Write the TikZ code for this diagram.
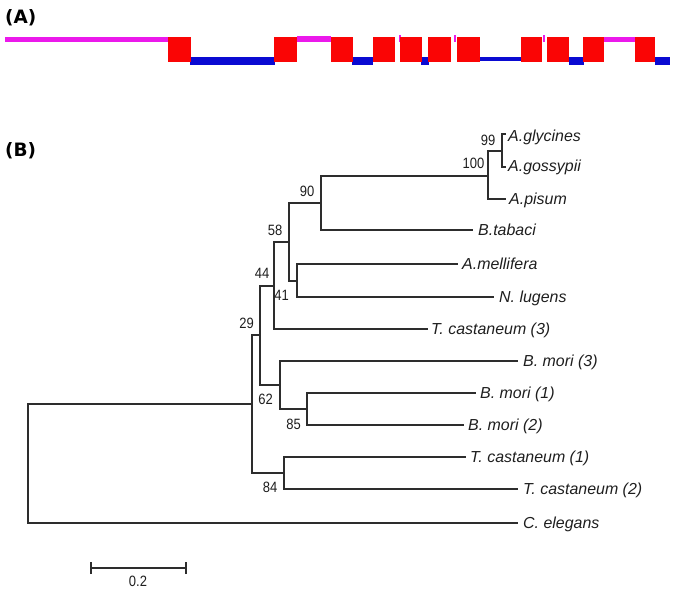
\documentclass[tikz,border=0pt]{standalone}
\usepackage{fontspec}
\setmainfont{Liberation Sans}
\newfontfamily\numfont[FakeStretch=0.87]{Liberation Sans}
\newfontfamily\headfont{DejaVu Sans}
\definecolor{exred}{RGB}{250,5,5}
\definecolor{inblue}{RGB}{10,10,210}
\definecolor{utrmag}{RGB}{235,25,235}
\definecolor{brc}{RGB}{45,45,45}
\definecolor{txt}{RGB}{30,30,30}
\tikzset{
  br/.style={draw=brc, line width=1.5pt, line cap=rect},
  leaf/.style={anchor=base west, inner sep=0pt, text=txt, font=\fontsize{16}{16}\selectfont\itshape},
  bs/.style={inner sep=0pt, text=txt, font=\numfont\fontsize{15}{15}\selectfont},
  head/.style={anchor=base west, inner sep=0pt, text=black, font=\headfont\bfseries\fontsize{18.5}{18.5}\selectfont},
  exon/.style={fill=exred, draw=none},
  intron/.style={fill=inblue, draw=none},
  utr/.style={fill=utrmag, draw=none}
}
\begin{document}
\begin{tikzpicture}[x=1bp,y=-1bp]
\useasboundingbox (0,0) rectangle (675,593);
% ---------- Panel A ----------
\node[head] (hA) at (5,24) {(A)};
\fill[utr] (5,37.5) rectangle (168,42.5);
\fill[intron] (190,57.5) rectangle (275,65);
\fill[utr] (297,36) rectangle (331,42);
\fill[intron] (352,57.5) rectangle (373,65);
\fill[intron] (421,57.5) rectangle (429,65);
\fill[intron] (480,57.5) rectangle (521,61.5);
\fill[intron] (569,57.5) rectangle (584,65);
\fill[utr] (604,37.5) rectangle (635,42);
\fill[intron] (655,57.5) rectangle (670,65);
\fill[utr] (398.5,35) rectangle (400.5,42);
\fill[utr] (453.5,35) rectangle (455.5,42);
\fill[utr] (542.5,35) rectangle (544.5,42);
\foreach \a/\b in {167.5/190.7, 274/297.3, 330.7/352.7, 372.7/395, 400/421.7, 428.3/451, 457.3/480, 520.7/541.7, 546.7/569.3, 583.3/604, 635/655}
  \fill[exon] (\a,37.5) rectangle (\b,62.5);
% ---------- Panel B ----------
\node[head] (hB) at (5,157) {(B)};
% internal nodes
\coordinate (root) at (28,463);
\coordinate (n29) at (252,404);
\coordinate (n44) at (260,335);
\coordinate (n44b) at (274,286);
\coordinate (n58) at (289,242);
\coordinate (n90) at (321,203);
\coordinate (n100) at (488,176);
\coordinate (n99) at (502,151);
\coordinate (n41) at (297,281);
\coordinate (n62) at (280,385);
\coordinate (n85) at (307,409);
\coordinate (n84) at (284,473);
% leaf tips
\coordinate (tgly) at (505,134);
\coordinate (tgos) at (505,167);
\coordinate (tpis) at (505,199);
\coordinate (ttab) at (472,230);
\coordinate (tmel) at (457,264);
\coordinate (tlug) at (493,297);
\coordinate (ttc3) at (427,329);
\coordinate (tmo3) at (517,361);
\coordinate (tmo1) at (475,393);
\coordinate (tmo2) at (463,425);
\coordinate (ttc1) at (465,457);
\coordinate (ttc2) at (517,489);
\coordinate (tcel) at (517,523);
% branches
\draw[br] (tgly) -| (n99) |- (tgos);
\draw[br] (n99) -| (n100) |- (tpis);
\draw[br] (n100) -| (n90) |- (ttab);
\draw[br] (tmel) -| (n41) |- (tlug);
\draw[br] (n90) -| (n58) |- (n41);
\draw[br] (n58) -| (n44b) |- (ttc3);
\draw[br] (tmo1) -| (n85) |- (tmo2);
\draw[br] (tmo3) -| (n62) |- (n85);
\draw[br] (n44b) -| (n44) |- (n62);
\draw[br] (ttc1) -| (n84) |- (ttc2);
\draw[br] (n44) -| (n29) |- (n84);
\draw[br] (n29) -| (root) |- (tcel);
% leaf labels
\node[leaf] (lgly) at (508,141.5) {A.glycines};
\node[leaf] (lgos) at (508,172) {A.gossypii};
\node[leaf] (lpis) at (509,204.5) {A.pisum};
\node[leaf] (ltab) at (478,235.5) {B.tabaci};
\node[leaf] (lmel) at (462,269.5) {A.mellifera};
\node[leaf] (llug) at (499,302.5) {N. lugens};
\node[leaf] (ltc3) at (431,334.5) {T. castaneum (3)};
\node[leaf] (lmo3) at (523,366.5) {B. mori (3)};
\node[leaf] (lmo1) at (480,398.5) {B. mori (1)};
\node[leaf] (lmo2) at (468,430.5) {B. mori (2)};
\node[leaf] (ltc1) at (470,462.5) {T. castaneum (1)};
\node[leaf] (ltc2) at (523,494.5) {T. castaneum (2)};
\node[leaf] (lcel) at (523,528.5) {C. elegans};
% bootstrap values
\node[bs] (b99) at (488,140) {99};
\node[bs] (b100) at (473.5,163.5) {100};
\node[bs] (b90) at (307,191.5) {90};
\node[bs] (b58) at (275,230.5) {58};
\node[bs] (b44) at (262,273.5) {44};
\node[bs] (b41) at (281.5,295.5) {41};
\node[bs] (b29) at (246.5,323) {29};
\node[bs] (b62) at (265.5,399) {62};
\node[bs] (b85) at (293.5,424) {85};
\node[bs] (b84) at (270,487.5) {84};
% scale bar
\coordinate (sb1) at (91,568);
\coordinate (sb2) at (186,568);
\draw[br, line cap=butt] (sb1) -- (sb2);
\draw[br, line cap=butt] ([yshift=-6bp]sb1) -- ([yshift=6bp]sb1);
\draw[br, line cap=butt] ([yshift=-6bp]sb2) -- ([yshift=6bp]sb2);
\node[bs] (sbl) at (138,581.5) {0.2};
\end{tikzpicture}
\end{document}
